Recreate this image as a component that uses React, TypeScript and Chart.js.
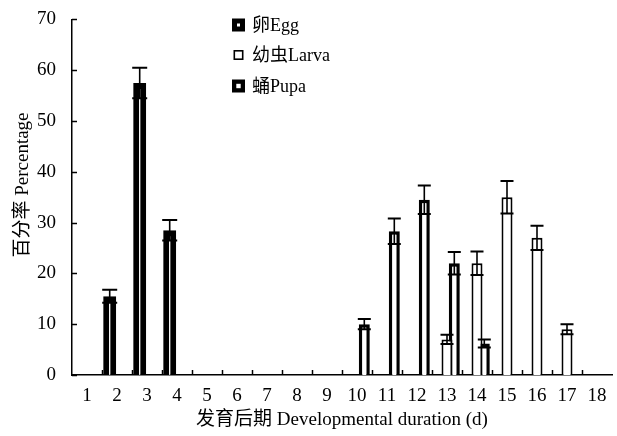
import React, { useEffect, useRef } from "react";
import { Chart, registerables } from "chart.js";

Chart.register(...registerables);

const categories = ["1", "2", "3", "4", "5", "6", "7", "8", "9", "10", "11", "12", "13", "14", "15", "16", "17", "18"];
const eggValues = [null, 15.5, 57.5, 28.5, null, null, null, null, null, null, null, null, null, null, null, null, null, null];
const eggErrors = [0, 1.3, 3, 2, 0, 0, 0, 0, 0, 0, 0, 0, 0, 0, 0, 0, 0, 0];
const larvaValues = [null, null, null, null, null, null, null, null, null, null, null, null, 7, 22, 35, 27, 9, null];
const larvaErrors = [0, 0, 0, 0, 0, 0, 0, 0, 0, 0, 0, 0, 0.9, 2.3, 3.2, 2.4, 1, 0];
const pupaValues = [null, null, null, null, null, null, null, null, null, 10, 28.3, 34.5, 22, 6.2, null, null, null, null];
const pupaErrors = [0, 0, 0, 0, 0, 0, 0, 0, 0, 1, 2.5, 2.8, 2.2, 0.8, 0, 0, 0, 0];
const seriesLabels = ["卵Egg", "幼虫Larva", "蛹Pupa"];
const yTickValues = [0, 10, 20, 30, 40, 50, 60, 70];
const xTitle = "发育后期 Developmental duration (d)";
const yTitle = "百分率 Percentage";

const FONT = "'Liberation Serif', 'Times New Roman', 'Noto Sans CJK SC', serif";

const errorsByDataset = [eggErrors, larvaErrors, pupaErrors];

const legendBoxes = [
  { size: 13, border: 5 },
  { size: 10, border: 1.6 },
  { size: 13, border: 4.3 },
];

const decorPlugin = {
  id: "decor",
  beforeDatasetsDraw(chart: any) {
    const { ctx, chartArea, scales } = chart;
    const x = scales.x;
    const y = scales.y;
    ctx.save();
    ctx.strokeStyle = "#000";
    ctx.lineWidth = 1.5;
    yTickValues.forEach((v) => {
      const py = Math.round(y.getPixelForValue(v)) + 0.5;
      ctx.beginPath();
      ctx.moveTo(chartArea.left, py);
      ctx.lineTo(chartArea.left + 5, py);
      ctx.stroke();
    });
    for (let i = 1; i < categories.length; i++) {
      const px = Math.round((x.getPixelForValue(i - 1) + x.getPixelForValue(i)) / 2) + 0.5;
      ctx.beginPath();
      ctx.moveTo(px, chartArea.bottom);
      ctx.lineTo(px, chartArea.bottom - 5);
      ctx.stroke();
    }
    ctx.restore();
  },
  afterDatasetsDraw(chart: any) {
    const { ctx, scales } = chart;
    const y = scales.y;
    ctx.save();
    ctx.strokeStyle = "#000";
    chart.data.datasets.forEach((ds: any, di: number) => {
      const meta = chart.getDatasetMeta(di);
      const errs = errorsByDataset[di];
      meta.data.forEach((bar: any, i: number) => {
        const v = ds.data[i];
        const e = errs[i];
        if (v == null || !e) return;
        const cx = bar.x;
        const half = bar.width / 2 + 1;
        const yt = y.getPixelForValue(v + e);
        const yb = y.getPixelForValue(v - e);
        ctx.lineWidth = 1.6;
        ctx.beginPath();
        ctx.moveTo(cx, yb);
        ctx.lineTo(cx, yt);
        ctx.stroke();
        ctx.lineWidth = 2;
        ctx.beginPath();
        ctx.moveTo(cx - half, yt);
        ctx.lineTo(cx + half, yt);
        ctx.moveTo(cx - half, yb);
        ctx.lineTo(cx + half, yb);
        ctx.stroke();
      });
    });
    ctx.restore();
  },
  afterDraw(chart: any) {
    const { ctx, chartArea } = chart;
    ctx.save();
    const lx = 238.5;
    const centers = [25, 55, 86];
    ctx.font = `18px ${FONT}`;
    ctx.textBaseline = "middle";
    ctx.textAlign = "left";
    seriesLabels.forEach((label, i) => {
      const b = legendBoxes[i];
      const bx = lx - b.size / 2;
      const by = centers[i] - b.size / 2;
      ctx.fillStyle = "#000";
      ctx.fillRect(bx, by, b.size, b.size);
      ctx.fillStyle = "#fff";
      ctx.fillRect(bx + b.border, by + b.border, b.size - 2 * b.border, b.size - 2 * b.border);
      ctx.fillStyle = "#000";
      ctx.fillText(label, 252, centers[i] + 1);
    });
    ctx.font = `19px ${FONT}`;
    ctx.textAlign = "center";
    ctx.textBaseline = "middle";
    ctx.fillText(xTitle, (chartArea.left + chartArea.right) / 2, 420);
    ctx.translate(23, 185);
    ctx.rotate(-Math.PI / 2);
    ctx.fillText(yTitle, 0, 0);
    ctx.restore();
  },
};

export default function App() {
  const canvasRef = useRef<HTMLCanvasElement | null>(null);

  useEffect(() => {
    document.body.style.margin = "0";
    const canvas = canvasRef.current;
    if (!canvas) return;
    const chart = new Chart(canvas, {
      type: "bar",
      data: {
        labels: categories,
        datasets: [
          {
            label: seriesLabels[0],
            data: eggValues,
            backgroundColor: "#fff",
            borderColor: "#000",
            borderWidth: 6,
            barPercentage: 13 / 7.3,
          },
          {
            label: seriesLabels[1],
            data: larvaValues,
            backgroundColor: "#fff",
            borderColor: "#000",
            borderWidth: 2,
            barPercentage: 11 / 7.3,
          },
          {
            label: seriesLabels[2],
            data: pupaValues,
            backgroundColor: "#fff",
            borderColor: "#000",
            borderWidth: 3.5,
            barPercentage: 11 / 7.3,
          },
        ] as any,
      },
      options: {
        animation: false,
        responsive: true,
        maintainAspectRatio: false,
        datasets: { bar: { categoryPercentage: 0.73 } } as any,
        layout: { padding: { top: 13, right: 5, left: 0, bottom: 0 } },
        plugins: {
          legend: { display: false },
          tooltip: { enabled: false },
        },
        scales: {
          x: {
            type: "category",
            offset: true,
            grid: { display: false },
            border: { display: true, color: "#000", width: 1.5 },
            ticks: {
              color: "#000",
              font: { family: FONT, size: 19 },
              padding: 2,
              maxRotation: 0,
              autoSkip: false,
            },
            afterFit: (s: any) => {
              s.height = 61;
            },
          },
          y: {
            min: 0,
            max: 70,
            grid: { display: false },
            border: { display: true, color: "#000", width: 1.5 },
            ticks: {
              color: "#000",
              stepSize: 10,
              font: { family: FONT, size: 19 },
              padding: 8,
            },
            afterFit: (s: any) => {
              s.width = 72;
            },
          },
        },
      },
      plugins: [decorPlugin],
    });
    return () => chart.destroy();
  }, []);

  return (
    <div style={{ position: "relative", width: 617, height: 436, background: "#fff" }}>
      <canvas ref={canvasRef} />
    </div>
  );
}
